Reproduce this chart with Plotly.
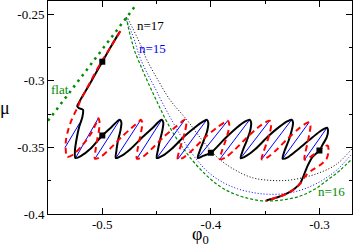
import plotly.graph_objects as go

# ---------------- data (phi_0, mu) ----------------
black_phi = [-0.4838, -0.4921, -0.5000, -0.5114, -0.5206, -0.5231, -0.5215, -0.5178,
             -0.5183, -0.5215, -0.5238, -0.5252, -0.5247,
             -0.5192, -0.5109, -0.5000, -0.4912, -0.4861, -0.4838,
             -0.4824, -0.4833, -0.4856, -0.4870, -0.4875,
             -0.4820, -0.4737, -0.4626, -0.4525, -0.4475, -0.4452,
             -0.4438, -0.4447, -0.4470, -0.4489, -0.4498,
             -0.4443, -0.4360, -0.4249, -0.4139, -0.4066, -0.4038,
             -0.4024, -0.4033, -0.4066, -0.4102, -0.4121,
             -0.4066, -0.4000, -0.3872, -0.3762, -0.3679, -0.3643,
             -0.3629, -0.3638, -0.3670, -0.3707, -0.3725,
             -0.3670, -0.3587, -0.3477, -0.3367, -0.3293, -0.3256,
             -0.3243, -0.3256, -0.3284, -0.3321, -0.3339,
             -0.3284, -0.3201, -0.3091, -0.2999, -0.2953, -0.2930,
             -0.2921, -0.2934, -0.2971, -0.3000, -0.3063, -0.3109, -0.3146, -0.3174,
             -0.3229, -0.3293, -0.3385, -0.3486]
black_mu = [-0.2630, -0.2743, -0.2856, -0.3021, -0.3149, -0.3190, -0.3205, -0.3217,
            -0.3269, -0.3352, -0.3442, -0.3525, -0.3580,
            -0.3562, -0.3510, -0.3410, -0.3344, -0.3303, -0.3292,
            -0.3314, -0.3374, -0.3450, -0.3525, -0.3580,
            -0.3562, -0.3510, -0.3420, -0.3344, -0.3303, -0.3292,
            -0.3314, -0.3374, -0.3450, -0.3525, -0.3580,
            -0.3562, -0.3510, -0.3420, -0.3344, -0.3303, -0.3292,
            -0.3314, -0.3374, -0.3450, -0.3525, -0.3580,
            -0.3562, -0.3540, -0.3435, -0.3352, -0.3303, -0.3292,
            -0.3314, -0.3374, -0.3450, -0.3525, -0.3581,
            -0.3562, -0.3510, -0.3420, -0.3344, -0.3303, -0.3292,
            -0.3314, -0.3374, -0.3450, -0.3525, -0.3585,
            -0.3570, -0.3517, -0.3442, -0.3382, -0.3359, -0.3352,
            -0.3374, -0.3427, -0.3480, -0.3523, -0.3570, -0.3638, -0.3713, -0.3765,
            -0.3811, -0.3844, -0.3874, -0.3897]

red_phi = [-0.4833, -0.4921, -0.5013, -0.5114, -0.5206, -0.5224, -0.5252, -0.5289,
           -0.5316, -0.5334, -0.5337, -0.5325,
           -0.5270, -0.5187, -0.5105, -0.5059, -0.5036,
           -0.5026, -0.5031, -0.5049, -0.5063, -0.5068,
           -0.5013, -0.4930, -0.4820, -0.4718, -0.4663, -0.4645,
           -0.4631, -0.4640, -0.4659, -0.4677, -0.4682,
           -0.4626, -0.4544, -0.4433, -0.4323, -0.4268, -0.4240,
           -0.4226, -0.4236, -0.4263, -0.4291, -0.4305,
           -0.4249, -0.4167, -0.4056, -0.3946, -0.3872, -0.3845,
           -0.3831, -0.3840, -0.3868, -0.3900, -0.3918,
           -0.3863, -0.3780, -0.3670, -0.3569, -0.3495, -0.3459,
           -0.3445, -0.3454, -0.3482, -0.3514, -0.3532,
           -0.3477, -0.3394, -0.3284, -0.3192, -0.3128, -0.3095,
           -0.3082, -0.3091, -0.3109, -0.3128, -0.3137,
           -0.3082, -0.3017, -0.2962, -0.2925, -0.2916, -0.2934, -0.2990,
           -0.3063, -0.3128, -0.3174, -0.3229, -0.3293, -0.3385, -0.3495]
red_mu = [-0.2626, -0.2743, -0.2863, -0.3014, -0.3156, -0.3194, -0.3239, -0.3307,
          -0.3374, -0.3442, -0.3510, -0.3570,
          -0.3555, -0.3487, -0.3397, -0.3322, -0.3280,
          -0.3307, -0.3374, -0.3450, -0.3525, -0.3585,
          -0.3570, -0.3510, -0.3420, -0.3344, -0.3307, -0.3292,
          -0.3314, -0.3374, -0.3450, -0.3525, -0.3585,
          -0.3570, -0.3510, -0.3420, -0.3344, -0.3307, -0.3292,
          -0.3314, -0.3374, -0.3450, -0.3525, -0.3589,
          -0.3574, -0.3517, -0.3427, -0.3352, -0.3311, -0.3299,
          -0.3322, -0.3382, -0.3457, -0.3532, -0.3589,
          -0.3574, -0.3517, -0.3427, -0.3352, -0.3311, -0.3299,
          -0.3322, -0.3382, -0.3457, -0.3532, -0.3589,
          -0.3574, -0.3517, -0.3427, -0.3359, -0.3322, -0.3311,
          -0.3337, -0.3389, -0.3465, -0.3532, -0.3592,
          -0.3570, -0.3532, -0.3495, -0.3487, -0.3525, -0.3585, -0.3630,
          -0.3668, -0.3713, -0.3769, -0.3811, -0.3844, -0.3874, -0.3901]

# rungs (blue): start (bottom fold) and end (top fold)
rung_phi0 = [-0.5344, -0.5247, -0.5068, -0.4875, -0.4682, -0.4498, -0.4305,
             -0.4121, -0.3918, -0.3725, -0.3532, -0.3339, -0.3137]
rung_mu0 = [-0.3502, -0.3580, -0.3585, -0.3580, -0.3585, -0.3580, -0.3589,
            -0.3580, -0.3589, -0.3581, -0.3589, -0.3585, -0.3592]
rung_phi1 = [-0.5206, -0.5036, -0.4838, -0.4645, -0.4452, -0.4240, -0.4038,
             -0.3845, -0.3643, -0.3459, -0.3256, -0.3095, -0.2930]
rung_mu1 = [-0.3314, -0.3280, -0.3292, -0.3292, -0.3292, -0.3292, -0.3292,
            -0.3299, -0.3292, -0.3299, -0.3292, -0.3311, -0.3352]

n16_phi = [-0.4778, -0.4760, -0.4732, -0.4700, -0.4654, -0.4599, -0.4535, -0.4470,
           -0.4406, -0.4332, -0.4259, -0.4167, -0.4056, -0.3937, -0.3808, -0.3661,
           -0.3523, -0.3367, -0.3183, -0.3045, -0.2934, -0.2815, -0.2700]
n16_mu = [-0.2520, -0.2600, -0.2690, -0.2780, -0.2871, -0.2976, -0.3089, -0.3202,
          -0.3307, -0.3412, -0.3502, -0.3600, -0.3698, -0.3781, -0.3841, -0.3882,
          -0.3901, -0.3897, -0.3867, -0.3814, -0.3750, -0.3675, -0.3585]

n15_phi = [-0.4787, -0.4764, -0.4737, -0.4705, -0.4672, -0.4645, -0.4580, -0.4516,
           -0.4452, -0.4378, -0.4305, -0.4222, -0.4130, -0.4029, -0.3900, -0.3753,
           -0.3597, -0.3459, -0.3293, -0.3137, -0.2980, -0.2842, -0.2700]
n15_mu = [-0.2525, -0.2570, -0.2623, -0.2690, -0.2780, -0.2841, -0.2953, -0.3051,
          -0.3156, -0.3269, -0.3374, -0.3487, -0.3592, -0.3683, -0.3758, -0.3811,
          -0.3841, -0.3852, -0.3844, -0.3811, -0.3750, -0.3671, -0.3547]

n17_phi = [-0.4764, -0.4728, -0.4682, -0.4636, -0.4590, -0.4489, -0.4378, -0.4222,
           -0.4075, -0.3937, -0.3780, -0.3615, -0.3459, -0.3293, -0.3137, -0.2999,
           -0.2842, -0.2700]
n17_mu = [-0.2532, -0.2592, -0.2668, -0.2750, -0.2841, -0.2991, -0.3141, -0.3292,
          -0.3450, -0.3577, -0.3668, -0.3728, -0.3747, -0.3747, -0.3724, -0.3690,
          -0.3626, -0.3510]

flat_phi = [-0.550, -0.468]
flat_mu = [-0.330, -0.242]

marker_phi = [-0.5, -0.5, -0.4, -0.3]
marker_mu = [-0.2856, -0.341, -0.354, -0.3523]

x_tickvals = [-0.5, -0.4, -0.3]
x_ticktext = ["-0.5", "-0.4", "-0.3"]
x_minor = [-0.45, -0.35]
y_tickvals = [-0.4, -0.35, -0.3, -0.25]
y_ticktext = ["-0.4", "-0.35", "-0.3", "-0.25"]
y_minor = [-0.375, -0.325, -0.275]

# ---------------- figure ----------------
SERIF = "Liberation Serif, Times New Roman, serif"
GREEN = "rgb(0,140,0)"

rx, ry = [], []
for a, b, c, d in zip(rung_phi0, rung_mu0, rung_phi1, rung_mu1):
    rx += [a, c, None]
    ry += [b, d, None]

fig = go.Figure()
fig.add_trace(go.Scatter(x=n17_phi, y=n17_mu, mode="lines", line_shape="spline",
                         line=dict(color="black", width=1, dash="1px,2px")))
fig.add_trace(go.Scatter(x=n15_phi, y=n15_mu, mode="lines", line_shape="spline",
                         line=dict(color="blue", width=1, dash="1px,2px")))
fig.add_trace(go.Scatter(x=n16_phi, y=n16_mu, mode="lines", line_shape="spline",
                         line=dict(color=GREEN, width=1.2, dash="3px,2px")))
fig.add_trace(go.Scatter(x=flat_phi, y=flat_mu, mode="lines",
                         line=dict(color=GREEN, width=2.5, dash="2.5px,4.5px")))
fig.add_trace(go.Scatter(x=rx, y=ry, mode="lines",
                         line=dict(color="blue", width=1)))
fig.add_trace(go.Scatter(x=black_phi, y=black_mu, mode="lines", line_shape="spline",
                         line=dict(color="black", width=2, smoothing=0.8)))
fig.add_trace(go.Scatter(x=red_phi, y=red_mu, mode="lines", line_shape="spline",
                         line=dict(color="red", width=2, dash="6px,4px", smoothing=0.8)))
fig.add_trace(go.Scatter(x=marker_phi, y=marker_mu, mode="markers",
                         marker=dict(symbol="square", size=6, color="black")))

axis_common = dict(showgrid=False, zeroline=False, showline=True, linecolor="black",
                   linewidth=1, mirror="allticks", ticks="inside", ticklen=6,
                   tickwidth=1, tickcolor="black",
                   tickfont=dict(family=SERIF, size=13, color="black"))

fig.update_xaxes(range=[-0.55, -0.27], tickmode="array", tickvals=x_tickvals,
                 ticktext=x_ticktext, ticklabelstandoff=-2,
                 minor=dict(tickmode="array", tickvals=x_minor, ticks="inside",
                            ticklen=3, tickcolor="black", tickwidth=1),
                 **axis_common)
fig.update_yaxes(range=[-0.4, -0.24], tickmode="array", tickvals=y_tickvals,
                 ticktext=y_ticktext,
                 minor=dict(tickmode="array", tickvals=y_minor, ticks="inside",
                            ticklen=3, tickcolor="black", tickwidth=1),
                 **axis_common)

ann_font = dict(family=SERIF, size=13)
annotations = [
    dict(x=-0.4700, y=-0.2585, text="n=17", xanchor="left", yanchor="middle",
         font=dict(color="black", **ann_font)),
    dict(x=-0.4684, y=-0.2758, text="n=15", xanchor="left", yanchor="middle",
         font=dict(color="blue", **ann_font)),
    dict(x=-0.3029, y=-0.3833, text="n=16", xanchor="left", yanchor="middle",
         font=dict(color=GREEN, **ann_font)),
    dict(x=-0.5491, y=-0.3066, text="flat", xanchor="left", yanchor="middle",
         font=dict(color=GREEN, **ann_font)),
    dict(xref="paper", yref="paper", x=-0.141, y=0.5, text="μ",
         xanchor="center", yanchor="middle",
         font=dict(family=SERIF, size=18, color="black")),
    dict(xref="paper", yref="paper", x=0.5, y=-0.10, text="φ<sub>0</sub>",
         xanchor="center", yanchor="middle",
         font=dict(family=SERIF, size=18, color="black")),
]
for a in annotations:
    a["showarrow"] = False
fig.update_layout(annotations=annotations)

fig.update_layout(width=353, height=251, showlegend=False,
                  margin=dict(l=48, r=1, t=1, b=37),
                  paper_bgcolor="white", plot_bgcolor="white")

fig.write_html("out.html", config={"displayModeBar": False},
               post_script="document.body.style.margin='0';document.body.style.overflow='hidden';")
